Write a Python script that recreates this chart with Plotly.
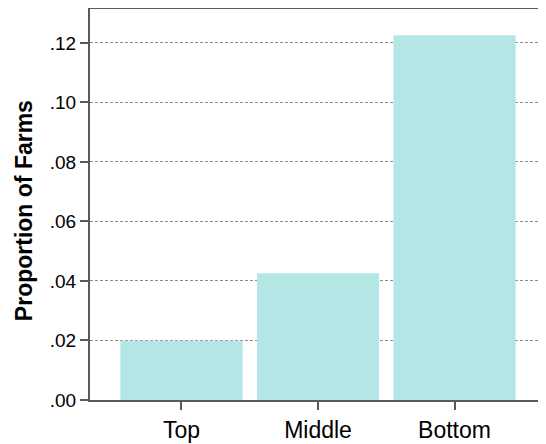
import plotly.graph_objects as go

categories = ["Top", "Middle", "Bottom"]
proportions = [0.0199, 0.0426, 0.1226]
y_tick_vals = [0, 0.02, 0.04, 0.06, 0.08, 0.10, 0.12]
y_tick_text = [".00", ".02", ".04", ".06", ".08", ".10", ".12"]
y_title = "Proportion of Farms"

fig = go.Figure()
fig.add_trace(go.Bar(
    x=categories, y=proportions,
    marker=dict(color="#b4e6e6", line=dict(width=0)),
    width=0.895,
))

# page body has an 8px margin; the margins below compensate for it
fig.update_layout(
    width=538, height=436,
    margin=dict(l=82, r=0, t=1, b=44),
    plot_bgcolor="white", paper_bgcolor="white",
    font=dict(family="Liberation Sans, Arial, sans-serif", color="black"),
    showlegend=False,
)
fig.update_xaxes(
    range=[-0.67, 2.67],
    showline=True, linecolor="#5a5a5a", linewidth=2, mirror=True,
    ticks="outside", ticklen=8, tickwidth=1.5, tickcolor="#5a5a5a",
    tickfont=dict(size=23),
    showgrid=False,
)
fig.update_yaxes(
    range=[0, 0.1314],
    tickvals=y_tick_vals, ticktext=y_tick_text,
    showline=True, linecolor="#5a5a5a", linewidth=2,
    ticks="outside", ticklen=8, tickwidth=1.5, tickcolor="#5a5a5a",
    tickfont=dict(size=19),
    showgrid=True, gridcolor="#8c8c8c", gridwidth=1, griddash="3px,2px",
    zeroline=False,
)
fig.add_annotation(
    text="<b>" + y_title + "</b>", textangle=-90,
    xref="paper", yref="paper", x=0, y=0.483, xshift=-66,
    xanchor="center", yanchor="middle", showarrow=False,
    font=dict(size=23, color="black"),
)

fig.write_html("out.html")
